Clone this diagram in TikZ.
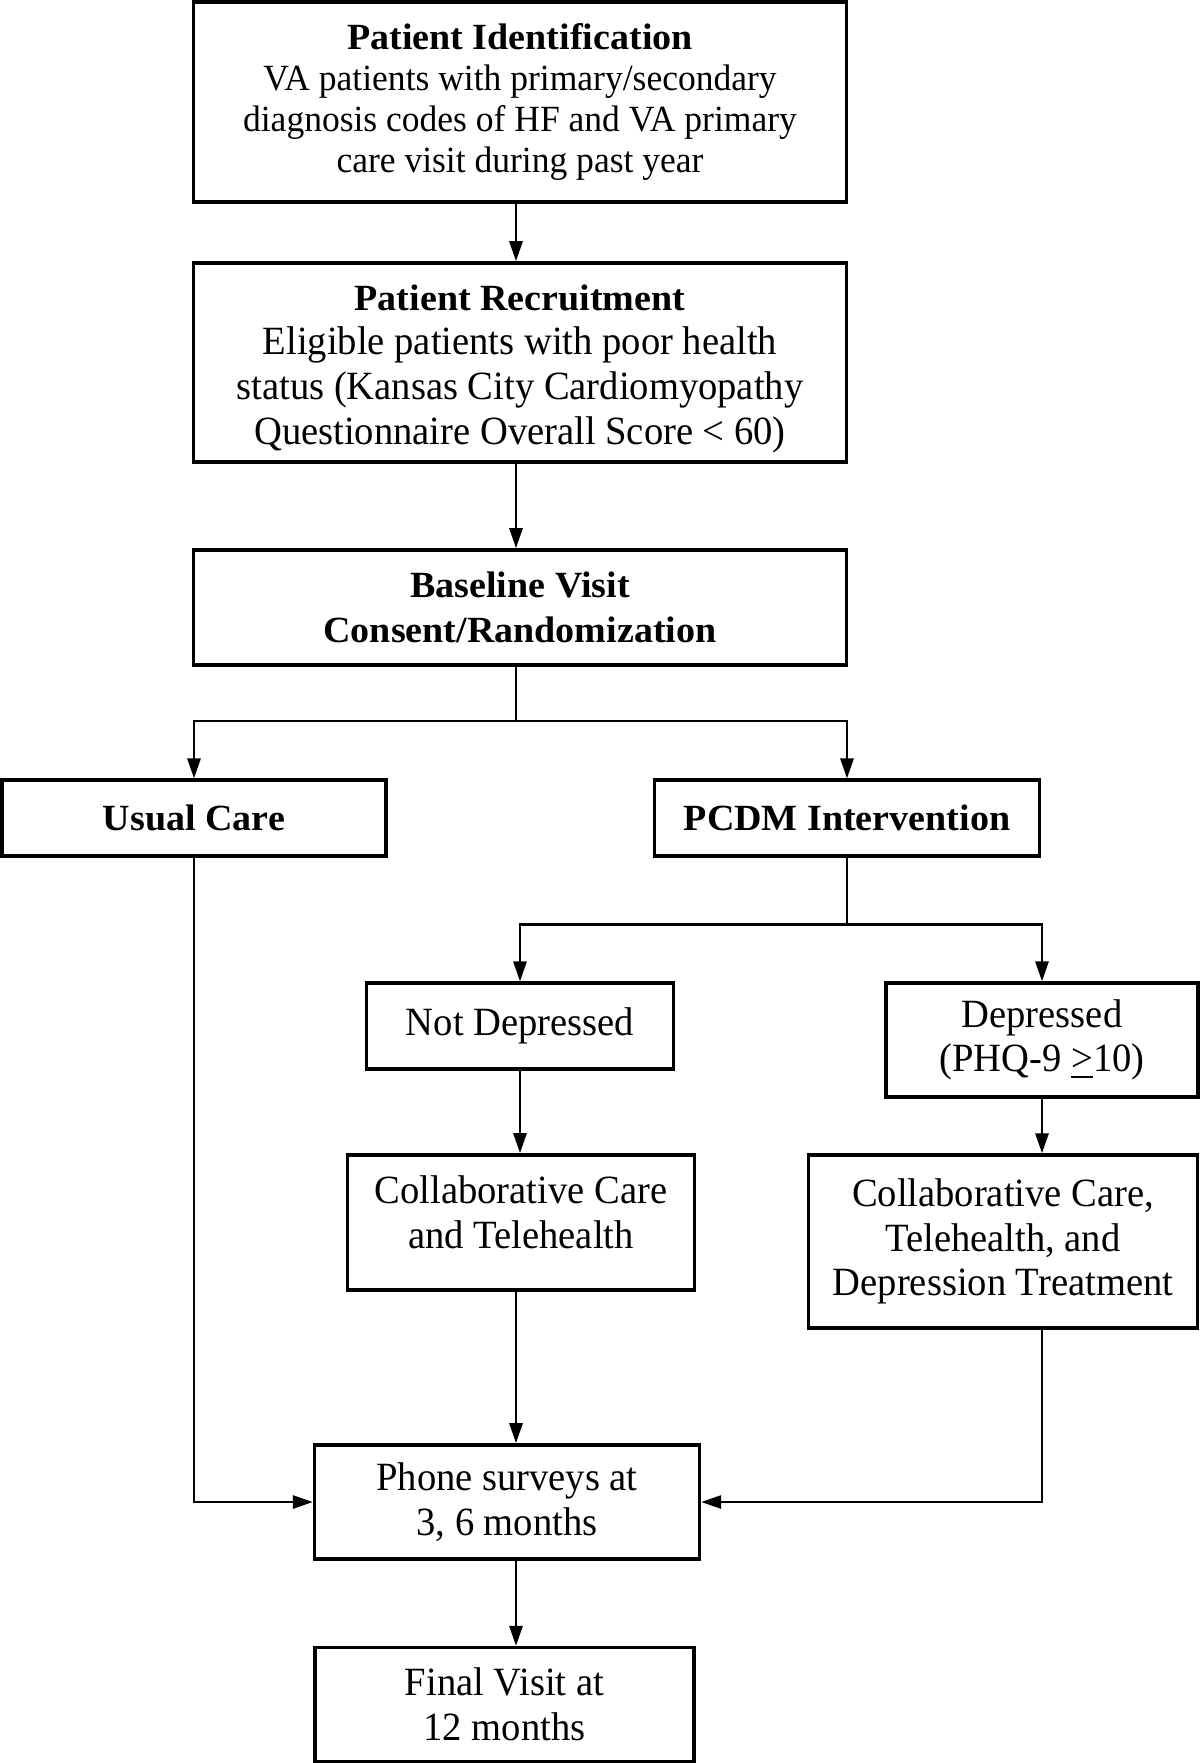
\documentclass[tikz,border=0pt]{standalone}
\usepackage{fontspec}
\setmainfont{Liberation Serif}[UprightFeatures={FakeStretch=0.962},BoldFeatures={FakeStretch=1.03}]
\usetikzlibrary{arrows.meta,positioning}
\newcommand{\ttl}[1]{{\fontsize{10.5}{12.7}\selectfont\bfseries #1}}
\tikzset{
    %Define standard arrow tip
    >={Triangle[length=0.2cm,width=0.13cm]},
    %Define style for boxes
    stagebox/.style={
           rectangle,
           draw=black,
           line width=1pt,
           inner sep=0pt,
           align=center,
           font=\fontsize{11.4}{12.7}\selectfont},
    smallbox/.style={
           stagebox,
           font=\fontsize{10.5}{11.7}\selectfont},
    % Define arrow style
    pil/.style={
           ->,
           line width=0.8pt},
    link/.style={
           line width=0.8pt}
}

\begin{document}
\begin{tikzpicture}[x=0.01cm,y=-0.01cm]
\useasboundingbox (0,0) rectangle (1200,1763);
 %nodes
\node[smallbox, minimum width=6.53cm, minimum height=2.0cm] (pid) at (520,102)
  {\textbf{Patient Identification}\\VA patients with primary/secondary\\diagnosis codes of HF and VA primary\\care visit during past year};
\node[stagebox, minimum width=6.53cm, minimum height=1.99cm] (prec) at (520,362.5)
  {\rule{0pt}{10.8pt}\ttl{Patient Recruitment}\\Eligible patients with poor health\\status (Kansas City Cardiomyopathy\\Questionnaire Overall Score < 60)};
\node[stagebox, minimum width=6.53cm, minimum height=1.15cm, font=\fontsize{10.5}{13}\selectfont\bfseries] (base) at (520,607.5)
  {Baseline Visit\\Consent/Randomization};
\node[stagebox, minimum width=3.84cm, minimum height=0.755cm] (usual) at (194,818)
  {\ttl{Usual Care}};
\node[stagebox, minimum width=3.85cm, minimum height=0.755cm] (pcdm) at (847,818)
  {\ttl{PCDM Intervention}};
\node[stagebox, minimum width=3.07cm, minimum height=0.855cm] (notdep) at (520,1026)
  {Not Depressed};
\node[stagebox, minimum width=3.12cm, minimum height=1.136cm] (dep) at (1042,1040)
  {Depressed\\(PHQ-9 \underline{>}10)};
\node[stagebox, minimum width=3.465cm, minimum height=1.35cm] (collab) at (521,1222.5)
  {Collaborative Care\\and Telehealth\rule[-6pt]{0pt}{1pt}};
\node[stagebox, minimum width=3.89cm, minimum height=1.73cm] (collabdep) at (1003,1241.6)
  {Collaborative Care,\\Telehealth, and\\Depression Treatment};
\node[stagebox, minimum width=3.846cm, minimum height=1.14cm] (phone) at (507,1502)
  {Phone surveys at\\3, 6 months};
\node[stagebox, minimum width=3.79cm, minimum height=1.136cm] (final) at (504.5,1704.5)
  {Final Visit at\\12 months};
 %helper points
\coordinate (spine) at (516,0);
\coordinate (fork1) at (516,721);
\coordinate (fork2) at (847,924.5);
 %connectors
\draw[pil] (pid.south -| spine) -- (prec.north -| spine);
\draw[pil] (prec.south -| spine) -- (base.north -| spine);
\draw[link] (base.south -| fork1) -- (fork1);
\draw[pil] (fork1) -| (usual.north);
\draw[pil] (fork1) -| (pcdm.north);
\draw[link] (pcdm.south) -- (fork2);
\draw[pil] (fork2) -| (notdep.north);
\draw[pil] (fork2) -| (dep.north);
\draw[pil] (notdep.south) -- (notdep.south |- collab.north);
\draw[pil] (dep.south) -- (dep.south |- collabdep.north);
\draw[pil] (collab.south -| spine) -- (phone.north -| spine);
\draw[pil] (usual.south) |- (phone.west);
\draw[pil] (collabdep.south -| dep.south) |- (phone.east);
\draw[pil] (phone.south -| spine) -- (final.north -| spine);
\end{tikzpicture}
\end{document}
